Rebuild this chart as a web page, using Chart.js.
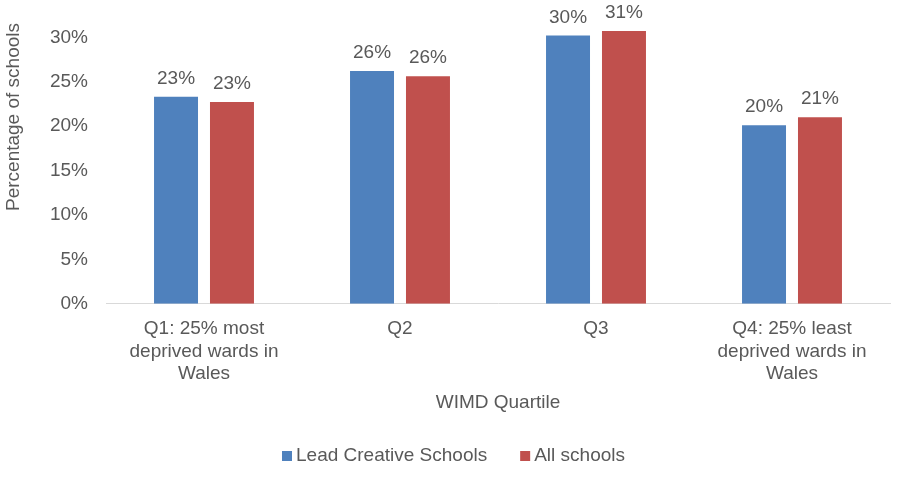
<!DOCTYPE html>
<html lang="en">
<head>
    <meta charset="UTF-8">
    <title>WIMD Quartile - Percentage of schools</title>
    <style>
        body {
            margin: 0;
            background-color: #fff;
        }
        canvas {
            display: block;
        }
    </style>
</head>
<body>

<canvas id="wimdChart" width="901" height="484"></canvas>

<script src="https://cdn.jsdelivr.net/npm/chart.js"></script>
<script>
    // values
    const categories = [
        ['Q1: 25% most', 'deprived wards in', 'Wales'],
        'Q2',
        'Q3',
        ['Q4: 25% least', 'deprived wards in', 'Wales']
    ];
    const leadCreativeSchools = [0.233, 0.262, 0.302, 0.201];
    const allSchools = [0.227, 0.256, 0.307, 0.210];
    const yTicks = [0, 0.05, 0.10, 0.15, 0.20, 0.25, 0.30];

    const textColor = '#595959';
    const fontFamily = "'Liberation Sans', Arial, sans-serif";
    const fontSize = 19;

    const pct = v => Math.round(v * 100) + '%';

    // numbers above each bar
    const barLabels = {
        id: 'barLabels',
        afterDatasetsDraw(chart) {
            const ctx = chart.ctx;
            ctx.save();
            ctx.font = fontSize + 'px ' + fontFamily;
            ctx.fillStyle = textColor;
            ctx.textAlign = 'center';
            ctx.textBaseline = 'alphabetic';
            chart.data.datasets.forEach((ds, i) => {
                chart.getDatasetMeta(i).data.forEach((bar, j) => {
                    ctx.fillText(pct(ds.data[j]), bar.x, bar.y - 13);
                });
            });
            ctx.restore();
        }
    };

    // y axis title sits higher than the middle of the axis in the original
    const yTitle = {
        id: 'yTitle',
        afterDraw(chart) {
            const ctx = chart.ctx;
            ctx.save();
            ctx.font = fontSize + 'px ' + fontFamily;
            ctx.fillStyle = textColor;
            ctx.translate(14, 117);
            ctx.rotate(-Math.PI / 2);
            ctx.textAlign = 'center';
            ctx.textBaseline = 'middle';
            ctx.fillText('Percentage of schools', 0, 0);
            ctx.restore();
        }
    };

    // legend with tight box/text spacing like Excel
    const bottomLegend = {
        id: 'bottomLegend',
        afterDraw(chart) {
            const ctx = chart.ctx;
            ctx.save();
            ctx.font = fontSize + 'px ' + fontFamily;
            ctx.textBaseline = 'middle';
            ctx.textAlign = 'left';
            let x = 282;
            const y = 456;
            chart.data.datasets.forEach(ds => {
                ctx.fillStyle = ds.backgroundColor;
                ctx.fillRect(x, y - 5, 10, 10);
                x += 14;
                ctx.fillStyle = textColor;
                ctx.fillText(ds.label, x, y);
                x += ctx.measureText(ds.label).width + 33;
            });
            ctx.restore();
        }
    };

    const ctx = document.getElementById('wimdChart').getContext('2d');
    new Chart(ctx, {
        type: 'bar',
        data: {
            labels: categories,
            datasets: [{
                label: 'Lead Creative Schools',
                data: leadCreativeSchools,
                backgroundColor: '#4f81bd'
            }, {
                label: 'All schools',
                data: allSchools,
                backgroundColor: '#c0504d'
            }]
        },
        options: {
            responsive: false,
            animation: false,
            categoryPercentage: 0.571,
            barPercentage: 0.786,
            layout: {
                padding: { top: 0, right: 11, bottom: 70, left: 0 }
            },
            plugins: {
                legend: { display: false },
                tooltip: { enabled: false }
            },
            scales: {
                x: {
                    grid: { display: false, drawTicks: false },
                    border: { display: true, color: '#d9d9d9', width: 1 },
                    ticks: {
                        color: textColor,
                        padding: 14,
                        maxRotation: 0,
                        autoSkip: false,
                        font: { family: fontFamily, size: fontSize, lineHeight: 1.18 }
                    },
                    title: {
                        display: true,
                        text: 'WIMD Quartile',
                        color: textColor,
                        padding: 0,
                        font: { family: fontFamily, size: fontSize }
                    },
                    afterFit: s => { s.height = 110.3; }
                },
                y: {
                    min: 0,
                    max: 0.342,
                    grid: { display: false, drawTicks: false },
                    border: { display: false },
                    ticks: {
                        stepSize: 0.05,
                        padding: 18,
                        color: textColor,
                        font: { family: fontFamily, size: fontSize },
                        callback: v => pct(v)
                    },
                    afterBuildTicks: s => {
                        s.ticks = yTicks.map(v => ({ value: v }));
                    },
                    afterFit: s => {
                        s.width = 106;
                        s.paddingTop = 0;
                        s.paddingBottom = 0;
                    }
                }
            }
        },
        plugins: [barLabels, yTitle, bottomLegend]
    });
</script>

</body>
</html>
